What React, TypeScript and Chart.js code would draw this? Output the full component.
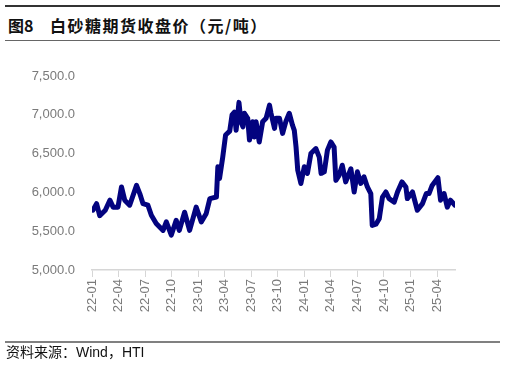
import React, { useEffect, useRef } from "react";
import { Chart, registerables } from "chart.js";

Chart.register(...registerables);

const dates = [
  "2022-01-04", "2022-01-17", "2022-01-28", "2022-02-15", "2022-03-02", "2022-03-13", "2022-03-30",
  "2022-04-11", "2022-04-22", "2022-05-09", "2022-06-02", "2022-06-13", "2022-06-24", "2022-07-11",
  "2022-07-23", "2022-08-09", "2022-09-02", "2022-09-13", "2022-09-30", "2022-10-17", "2022-10-28",
  "2022-11-15", "2022-12-02", "2022-12-25", "2023-01-12", "2023-01-29", "2023-02-10", "2023-03-03",
  "2023-03-08", "2023-03-14", "2023-03-25", "2023-04-04", "2023-04-18", "2023-04-26", "2023-05-04",
  "2023-05-10", "2023-05-20", "2023-05-27", "2023-06-03", "2023-06-08", "2023-06-19", "2023-06-25",
  "2023-07-06", "2023-07-12", "2023-07-18", "2023-07-29", "2023-08-10", "2023-08-22", "2023-09-03",
  "2023-09-08", "2023-09-20", "2023-09-25", "2023-10-07", "2023-10-18", "2023-10-29", "2023-11-10",
  "2023-11-21", "2023-11-27", "2023-12-03", "2023-12-09", "2023-12-20", "2024-01-01", "2024-01-12",
  "2024-01-24", "2024-02-10", "2024-02-21", "2024-02-27", "2024-03-09", "2024-03-20", "2024-04-01",
  "2024-04-12", "2024-04-18", "2024-04-29", "2024-05-10", "2024-05-22", "2024-06-09", "2024-06-20",
  "2024-07-01", "2024-07-13", "2024-07-24", "2024-08-05", "2024-08-17", "2024-08-22", "2024-09-04",
  "2024-09-15", "2024-09-26", "2024-10-08", "2024-10-19", "2024-11-06", "2024-11-17", "2024-12-02",
  "2024-12-16", "2024-12-21", "2025-01-08", "2025-01-25", "2025-02-11", "2025-02-23", "2025-03-04",
  "2025-03-15", "2025-04-04", "2025-04-13", "2025-04-25", "2025-05-06", "2025-05-17", "2025-06-02",
];

const prices = [
  5770, 5855, 5700, 5770, 5900, 5810, 5810,
  6070, 5900, 5835, 6090, 5985, 5855, 5835,
  5705, 5600, 5510, 5620, 5450, 5640, 5510,
  5745, 5510, 5810, 5620, 5725, 5920, 5940,
  6330, 6180, 6450, 6740, 6790, 7000, 7035,
  6800, 7160, 6910, 6845, 7020, 6955, 6675,
  6910, 6715, 6910, 6650, 6910, 6955, 7125,
  7020, 6825, 6955, 6955, 6760, 6910, 7020,
  6865, 6800, 6585, 6285, 6115, 6330, 6245,
  6500, 6565, 6455, 6245, 6265, 6545, 6650,
  6585, 6155, 6220, 6350, 6135, 6305, 6005,
  6265, 6115, 6200, 6070, 5985, 5575, 5590,
  5660, 5940, 6005, 5920, 5875, 6005, 6135,
  6070, 5920, 6005, 5770, 5855, 5985, 5985,
  6090, 6190, 5900, 5985, 5810, 5900, 5835,
];

const tickLabels = [
  "22-01", "22-04", "22-07", "22-10", "23-01", "23-04", "23-07",
  "23-10", "24-01", "24-04", "24-07", "24-10", "25-01", "25-04",
];

const yTicks = [5000, 5500, 6000, 6500, 7000, 7500];

const seriesName = "白砂糖期货收盘价";

function monthPos(s: string): number {
  const [y, mo, d] = s.split("-").map(Number);
  const dim = new Date(y, mo, 0).getDate();
  return (y - 2022) * 12 + (mo - 1) + (d - 1) / dim;
}

function labelPos(l: string): number {
  const [yy, mm] = l.split("-").map(Number);
  return (yy - 22) * 12 + (mm - 1);
}

export default function App() {
  const ref = useRef<HTMLCanvasElement>(null);

  useEffect(() => {
    if (!ref.current) return;
    const data = dates.map((d, i) => ({ x: monthPos(d), y: prices[i] }));
    const chart = new Chart(ref.current, {
      type: "line",
      data: {
        datasets: [
          {
            label: seriesName,
            data,
            borderColor: "#03037f",
            borderWidth: 5,
            pointRadius: 0,
            tension: 0,
            fill: false,
            borderJoinStyle: "round",
            borderCapStyle: "round",
          },
        ],
      },
      options: {
        animation: false,
        responsive: false,
        devicePixelRatio: 1,
        layout: { padding: { left: 0, top: 76, right: 51, bottom: 0 } },
        plugins: { legend: { display: false }, tooltip: { enabled: false } },
        scales: {
          x: {
            type: "linear",
            min: 0,
            max: monthPos(dates[dates.length - 1]),
            afterBuildTicks: (scale: any) => {
              scale.ticks = tickLabels.map((l) => ({ value: labelPos(l) }));
            },
            afterFit: (scale: any) => {
              scale.height = 365 - 270;
            },
            ticks: {
              autoSkip: false,
              maxRotation: 90,
              minRotation: 90,
              padding: 2,
              color: "#7a7a7a",
              font: { family: "'Liberation Sans', Arial, sans-serif", size: 13 },
              callback: (_v: any, i: number) => tickLabels[i],
            },
            grid: {
              display: true,
              drawOnChartArea: false,
              drawTicks: true,
              tickLength: 7,
              color: "#d6d6d6",
              lineWidth: 1,
            },
            border: { display: true, color: "#d6d6d6", width: 1.5 },
          },
          y: {
            type: "linear",
            min: yTicks[0],
            max: yTicks[yTicks.length - 1],
            afterBuildTicks: (scale: any) => {
              scale.ticks = yTicks.map((v) => ({ value: v }));
            },
            afterFit: (scale: any) => {
              scale.width = 92;
            },
            ticks: {
              padding: 17,
              color: "#7a7a7a",
              font: { family: "'Liberation Sans', Arial, sans-serif", size: 13 },
              callback: (v: any) =>
                Number(v).toLocaleString("en-US", {
                  minimumFractionDigits: 1,
                  maximumFractionDigits: 1,
                }),
            },
            grid: { display: false, drawTicks: false },
            border: { display: false },
          },
        },
      },
    });
    return () => chart.destroy();
  }, []);

  const cjk = "'Noto Sans CJK SC', 'Noto Sans', sans-serif";
  const mixed = "'Liberation Sans', 'Noto Sans CJK SC', sans-serif";

  return (
    <div
      style={{
        position: "fixed",
        left: 0,
        top: 0,
        width: 506,
        height: 365,
        background: "#fff",
        overflow: "hidden",
      }}
    >
      <div style={{ position: "absolute", left: 5, top: 5, width: 495, height: 1.5, background: "#333" }} />
      <div
        style={{
          position: "absolute",
          left: 8,
          top: 16,
          fontFamily: cjk,
          fontWeight: 700,
          fontSize: 16,
          lineHeight: "18px",
          color: "#111",
          whiteSpace: "nowrap",
        }}
      >
        图8
      </div>
      <div
        style={{
          position: "absolute",
          left: 50,
          top: 16,
          fontFamily: cjk,
          fontWeight: 700,
          fontSize: 16,
          lineHeight: "18px",
          letterSpacing: "1.5px",
          color: "#111",
          whiteSpace: "nowrap",
        }}
      >
        白砂糖期货收盘价（元/吨）
      </div>
      <div style={{ position: "absolute", left: 5, top: 39.5, width: 495, height: 1, background: "#666" }} />
      <canvas
        ref={ref}
        width={506}
        height={365}
        style={{ position: "absolute", left: 0, top: 0, width: 506, height: 365 }}
      />
      <div style={{ position: "absolute", left: 5, top: 340.5, width: 495, height: 2, background: "#808080" }} />
      <div
        style={{
          position: "absolute",
          left: 6,
          top: 344,
          fontFamily: mixed,
          fontSize: 14,
          lineHeight: "16px",
          color: "#111",
          whiteSpace: "nowrap",
        }}
      >
        资料来源：Wind，HTI
      </div>
    </div>
  );
}
